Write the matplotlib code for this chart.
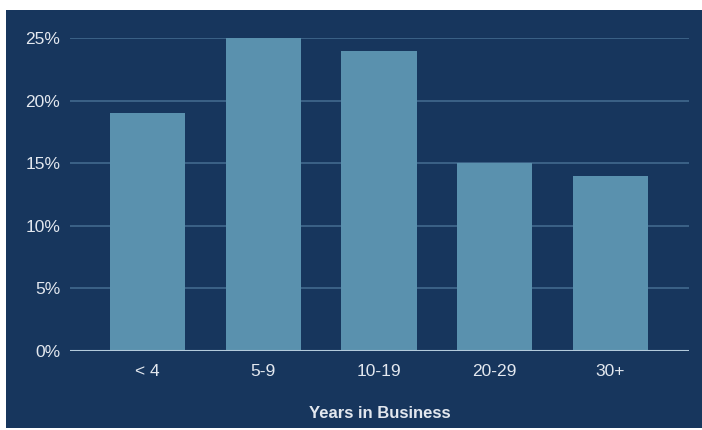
import matplotlib.pyplot as plt
from matplotlib.patches import Rectangle
from matplotlib.ticker import FuncFormatter

categories = ["< 4", "5-9", "10-19", "20-29", "30+"]
shares = [19, 25, 24, 15, 14]
y_ticks = [0, 5, 10, 15, 20, 25]

bg = "#17365d"
bar_color = "#5a91ae"
grid_color = "#42698e"
text_color = "#e3e8ef"

plt.rcParams['font.family'] = ['Liberation Sans', 'DejaVu Sans']

fig = plt.figure(figsize=(7.02, 4.30), dpi=100, facecolor="white")
fig.add_artist(Rectangle((6 / 702, 2 / 430), 696 / 702, 418 / 430,
                         transform=fig.transFigure, facecolor=bg,
                         edgecolor="none", zorder=-10))

ax = fig.add_axes([70 / 702, 79 / 430, 619 / 702, 313 / 430])
ax.patch.set_alpha(0)

x = range(len(categories))
ax.bar(x, shares, width=0.65, color=bar_color, zorder=2)

ax.set_xlim(-0.67, 4.68)
ax.set_ylim(0, 25)
ax.set_yticks(y_ticks)
ax.yaxis.set_major_formatter(FuncFormatter(lambda v, p: f"{int(v)}%"))
ax.set_xticks(list(x))
ax.set_xticklabels(categories)

for v in y_ticks[1:]:
    ax.axhline(v, color=grid_color, linewidth=1.2, zorder=1)
ax.axhline(0, color="#b3cadb", linewidth=1.5, zorder=3)

for s in ax.spines.values():
    s.set_visible(False)
ax.tick_params(length=0, colors=text_color, labelsize=12.5)
ax.tick_params(axis="y", pad=7)
ax.tick_params(axis="x", pad=9)

ax.set_xlabel("Years in Business", color=text_color, fontsize=12,
              fontweight="bold", labelpad=20)

fig.savefig("out.png", dpi=100, facecolor="white")
